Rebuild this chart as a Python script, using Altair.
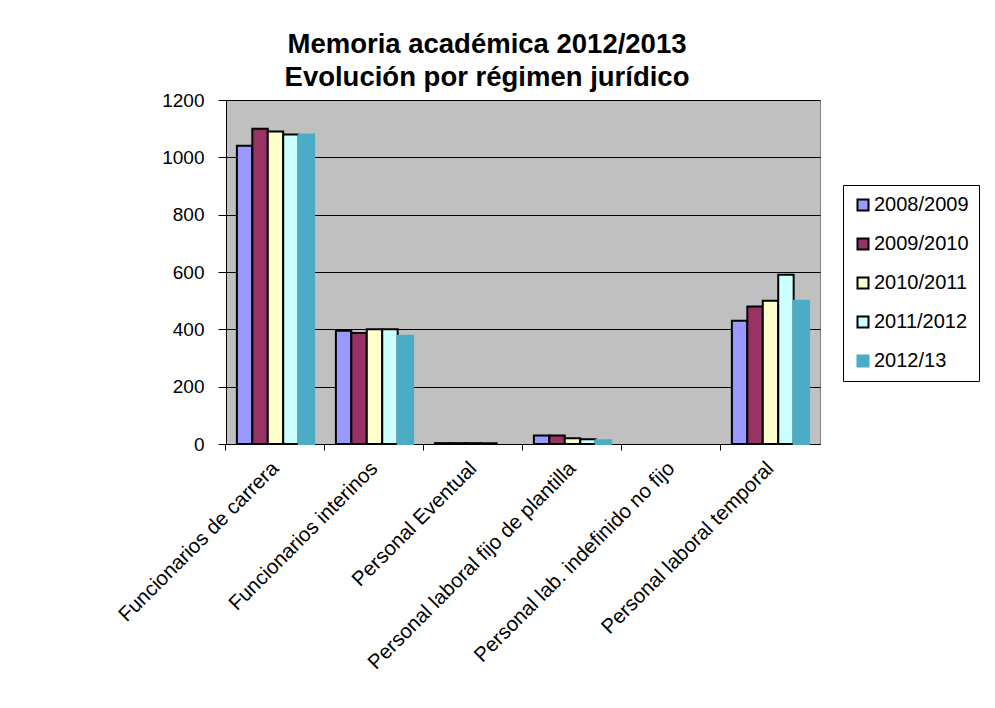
import altair as alt
import pandas as pd

categories = [
    "Funcionarios de carrera",
    "Funcionarios interinos",
    "Personal Eventual",
    "Personal laboral fijo de plantilla",
    "Personal lab. indefinido no fijo",
    "Personal laboral temporal",
]
years = ["2008/2009", "2009/2010", "2010/2011", "2011/2012", "2012/13"]
v_2008 = [1040, 395, 3, 30, None, 430]
v_2009 = [1100, 387, 3, 30, None, 480]
v_2010 = [1090, 400, 3, 20, None, 500]
v_2011 = [1080, 400, 3, 17, None, 590]
v_2012 = [1080, 378, None, 13, None, 500]
y_ticks = [0, 200, 400, 600, 800, 1000, 1200]

fills = ["#9999FF", "#993366", "#FFFFCC", "#CCFFFF", "#4BACC6"]
strokes = ["#000000", "#000000", "#000000", "#000000", "#4BACC6"]

series = [v_2008, v_2009, v_2010, v_2011, v_2012]
rows = []
for yr, vals in zip(years, series):
    for c, v in zip(categories, vals):
        rows.append({"cat": c, "year": yr, "value": v})
df = pd.DataFrame(rows)

FONT = "Liberation Sans"

legend = alt.Legend(
    title=None,
    orient="none",
    legendX=617,
    legendY=85,
    strokeColor="#000000",
    fillColor="#FFFFFF",
    padding=10,
    rowPadding=19,
    labelFontSize=20,
    labelFont=FONT,
    labelColor="#000000",
    labelOffset=1,
    symbolType="square",
    symbolSize=121,
    symbolStrokeWidth=2,
)

chart = (
    alt.Chart(df)
    .mark_bar(strokeWidth=2)
    .encode(
        x=alt.X(
            "cat:N",
            sort=categories,
            scale=alt.Scale(domain=categories, paddingInner=0.22, paddingOuter=0.11),
            axis=alt.Axis(
                title=None,
                bandPosition=-0.1425,
                labelAngle=-45,
                labelAlign="right",
                labelBaseline="middle",
                labelPadding=15,
                labelFontSize=20.5,
                labelFont=FONT,
                labelColor="#000000",
                tickSize=6,
                tickColor="#000000",
                domainColor="#000000",
                labelLimit=400,
            ),
        ),
        xOffset=alt.XOffset(
            "year:N",
            sort=years,
            scale=alt.Scale(domain=years, paddingInner=0, paddingOuter=0),
        ),
        y=alt.Y(
            "value:Q",
            scale=alt.Scale(domain=[0, 1200]),
            axis=alt.Axis(
                title=None,
                values=y_ticks,
                format="d",
                labelFontSize=19,
                labelFont=FONT,
                labelColor="#000000",
                labelPadding=14,
                tickSize=8,
                tickColor="#000000",
                domainColor="#000000",
                gridColor="#000000",
                gridWidth=1,
            ),
        ),
        fill=alt.Fill(
            "year:N",
            sort=years,
            scale=alt.Scale(domain=years, range=fills),
            legend=legend,
        ),
        stroke=alt.Stroke(
            "year:N",
            sort=years,
            scale=alt.Scale(domain=years, range=strokes),
            legend=legend,
        ),
    )
    .properties(
        width=594,
        height=344,
        background="#FFFFFF",
        title=alt.TitleParams(
            ["Memoria académica 2012/2013", "Evolución por régimen jurídico"],
            font=FONT,
            fontSize=27.5,
            fontWeight="bold",
            color="#000000",
            anchor="middle",
            dx=-36,
            offset=0,
            lineHeight=33,
        ),
        padding={"left": 218, "top": 92, "right": 167, "bottom": 250},
        autosize=alt.AutoSizeParams(type="none"),
    )
    .configure_view(fill="#C0C0C0", stroke="#808080", strokeWidth=1)
)

chart.save("out.html", embed_options={"renderer": "svg", "actions": False})
